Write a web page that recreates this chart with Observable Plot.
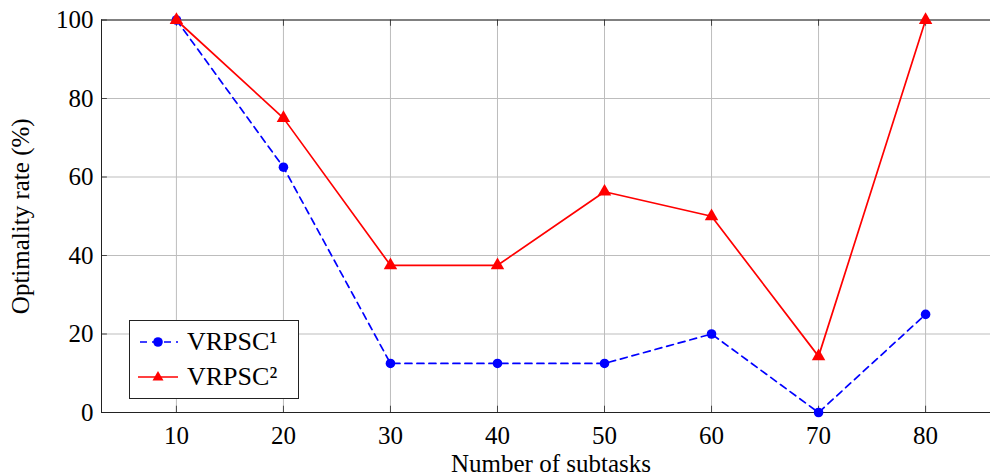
<!DOCTYPE html>
<html>
<head>
<meta charset="utf-8">
<script src="https://cdn.jsdelivr.net/npm/d3@7"></script>
<script src="https://cdn.jsdelivr.net/npm/@observablehq/plot@0.6"></script>
<style>
  html, body { margin: 0; padding: 0; background: #fff; overflow: hidden; }
  #wrap { position: relative; width: 990px; height: 475px; font-family: "Liberation Serif", "DejaVu Serif", serif; color: #000; }
  #chart svg, #chart svg text { font-family: "Liberation Serif", "DejaVu Serif", serif !important; font-variant: normal !important; }
  #legend { position: absolute; left: 129px; top: 320px; width: 170px; height: 79px; border: 1px solid #222; background: #fff; box-sizing: border-box; }
  .row { position: absolute; left: 0; height: 36px; display: flex; align-items: center; font-size: 26px; }
  .row svg { margin-left: 8px; margin-right: 9px; }
</style>
</head>
<body>
<div id="wrap">
  <div id="chart"></div>
  <div id="legend"></div>
</div>
<script>
const subtasks = [10, 20, 30, 40, 50, 60, 70, 80];
const vrpsc1 = [100, 62.5, 12.5, 12.5, 12.5, 20, 0, 25];
const vrpsc2 = [100, 75, 37.5, 37.5, 56.25, 50, 14.3, 100];
const seriesNames = ["VRPSC¹", "VRPSC²"];
const yTicks = [0, 20, 40, 60, 80, 100];

const d1 = subtasks.map((x, i) => ({x, y: vrpsc1[i]}));
const d2 = subtasks.map((x, i) => ({x, y: vrpsc2[i]}));

const blue = "#0000ff", red = "#ff0000";

const chart = Plot.plot({
  width: 990,
  height: 475,
  marginLeft: 101,
  marginRight: -10,
  marginTop: 19.5,
  marginBottom: 63,
  style: {fontSize: "25px", color: "#000", background: "#fff"},
  x: {domain: [3, 87]},
  y: {domain: [0, 100]},
  marks: [
    Plot.gridX(subtasks, {stroke: "#bdbdbd", strokeOpacity: 1, strokeWidth: 1}),
    Plot.gridY(yTicks, {stroke: "#bdbdbd", strokeOpacity: 1, strokeWidth: 1}),
    // inner tick marks
    Plot.ruleX(subtasks, {y1: 0, y2: 1.6, stroke: "#444", strokeWidth: 1}),
    Plot.ruleX(subtasks, {y1: 100, y2: 98.4, stroke: "#444", strokeWidth: 1}),
    Plot.ruleY(yTicks, {x1: 3, x2: 3.55, stroke: "#444", strokeWidth: 1}),
    // frame
    Plot.ruleY([0, 100], {stroke: "#222", strokeWidth: 1}),
    Plot.ruleX([3], {stroke: "#222", strokeWidth: 1}),
    Plot.axisX(subtasks, {tickSize: 0, tickPadding: 14, fontSize: 25, label: null}),
    Plot.axisX({tickSize: 0, ticks: [], label: "Number of subtasks", labelAnchor: "center", labelArrow: "none", labelOffset: 59, fontSize: 25}),
    Plot.axisY(yTicks, {tickSize: 0, tickPadding: 8, fontSize: 25, label: "Optimality rate (%)", labelAnchor: "center", labelArrow: "none", labelOffset: 90}),
    Plot.line(d1, {x: "x", y: "y", stroke: blue, strokeWidth: 1.7, strokeDasharray: "7,5"}),
    Plot.dot(d1, {x: "x", y: "y", fill: blue, r: 4.8, symbol: "circle"}),
    Plot.line(d2, {x: "x", y: "y", stroke: red, strokeWidth: 1.7}),
    Plot.dot(d2, {x: "x", y: "y", fill: red, r: 5, symbol: "triangle"})
  ]
});
document.getElementById("chart").appendChild(chart);

const legend = document.getElementById("legend");
const samples = [
  `<svg width="40" height="20"><line x1="0" y1="10" x2="40" y2="10" stroke="${blue}" stroke-width="1.7" stroke-dasharray="7,5" stroke-dashoffset="-2"/><circle cx="20" cy="10" r="4.8" fill="${blue}"/></svg>`,
  `<svg width="40" height="20"><line x1="0" y1="10" x2="40" y2="10" stroke="${red}" stroke-width="1.7"/><path d="M20,4 L25.5,13.5 L14.5,13.5 Z" fill="${red}"/></svg>`
];
seriesNames.forEach((name, i) => {
  const row = document.createElement("div");
  row.className = "row";
  row.style.top = (3 + i * 35) + "px";
  row.innerHTML = samples[i] + `<span>${name}</span>`;
  legend.appendChild(row);
});
</script>
</body>
</html>
